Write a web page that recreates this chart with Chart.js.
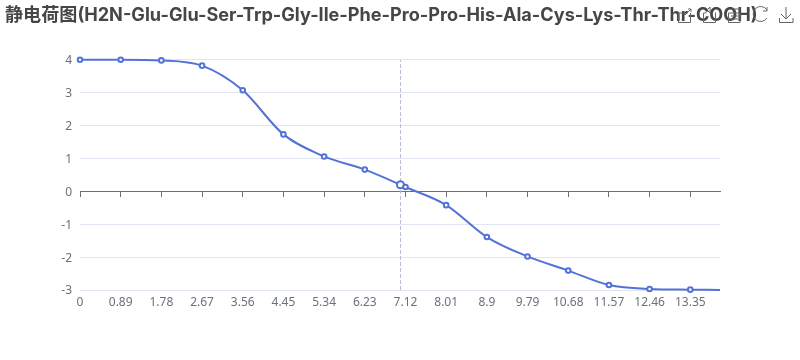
<!DOCTYPE html>
<html><head><meta charset="utf-8">
<script src="https://cdn.jsdelivr.net/npm/chart.js@4"></script>
<style>
html,body{margin:0;padding:0;background:#fff}
#wrap{position:relative;width:800px;height:360px}
canvas{position:absolute;left:0;top:0}
#tools{position:absolute;left:0;top:0;pointer-events:none}
</style></head><body>
<div id="wrap"><canvas id="c" width="800" height="360"></canvas>
<svg id="tools" width="800" height="30" fill="none" stroke="#666" stroke-width="1">
<path d="M678.5 13v9.5h12V13M678.5 13h5M691 9l-6 6M688 9h3v3"/>
<path d="M703.5 13v9.5h12V13M703.5 13h3M715 13h1M707 10l3-3v6z"/>
<path d="M728.5 13v9.5h11.5V13H728.5M731 16h7M731 19h7M732 9h8"/>
<path d="M767 10a7.5 7.5 0 1 0 0 8M767 7v4h-4"/>
<path d="M786 7v12M781 14l5 5 5-5M779.5 18v4.5h13.5V18"/>
</svg></div>
<script>
const titleText = '静电荷图(H2N-Glu-Glu-Ser-Trp-Gly-Ile-Phe-Pro-Pro-His-Ala-Cys-Lys-Thr-Thr-COOH)';
const xTicks = [0,0.89,1.78,2.67,3.56,4.45,5.34,6.23,7.12,8.01,8.9,9.79,10.68,11.57,12.46,13.35];
const phValues = [0,0.89,1.78,2.67,3.56,4.45,5.34,6.23,7.01,7.12,8.01,8.9,9.79,10.68,11.57,12.46,13.35,14];
const charges = [4,4,3.98,3.82,3.07,1.73,1.06,0.66,0.2,0.13,-0.42,-1.39,-1.98,-2.41,-2.85,-2.97,-2.99,-3];
const yTicks = [-3,-2,-1,0,1,2,3,4];
const crosshairX = 7.01;

const labelFont = {family:'"Noto Sans","Noto Sans CJK SC",sans-serif',size:12};
const labelColor = '#6E7079';
const lineColor = '#5272D8';
const setX = s => { s.ticks = xTicks.map(v=>({value:v})); };

new Chart(document.getElementById('c'),{
  type:'line',
  data:{datasets:[
    {data:phValues.map((x,i)=>({x,y:charges[i]})),xAxisID:'x',yAxisID:'y',
     borderColor:lineColor,borderWidth:2,cubicInterpolationMode:'monotone',clip:false,
     pointBackgroundColor:'#fff',pointBorderColor:lineColor,pointBorderWidth:2,
     pointRadius:c=>{const x=phValues[c.dataIndex];return x===crosshairX?3.5:(x===14?0:2.3);},order:1},
    {data:[{x:crosshairX,y:yTicks[0]},{x:crosshairX,y:yTicks[yTicks.length-1]}],xAxisID:'x',yAxisID:'y',
     borderColor:'#B6BDD2',borderWidth:1,borderDash:[4,2],pointRadius:0,order:2}
  ]},
  options:{
    responsive:false,animation:false,
    layout:{padding:{left:5,right:0,top:0,bottom:0}},
    plugins:{legend:{display:false},tooltip:{enabled:false},
      title:{display:true,text:titleText,align:'start',color:'#464646',
        font:{family:'"Inter","Noto Sans CJK SC",sans-serif',size:18.1,weight:'bold',lineHeight:1.2},
        padding:{top:5,bottom:33}}},
    scales:{
      x:{type:'linear',position:'bottom',min:0,max:14,afterBuildTicks:setX,
        grid:{display:false,drawTicks:false},border:{display:false},
        ticks:{autoSkip:false,maxRotation:0,color:labelColor,font:labelFont,padding:5,callback:v=>String(v)},
        afterFit:s=>{s.height=70;}},
      xZero:{type:'linear',position:{y:0},min:0,max:14,afterBuildTicks:setX,
        grid:{drawOnChartArea:false,drawTicks:true,tickLength:5,color:labelColor,tickColor:labelColor},
        border:{display:true,color:labelColor,width:1},
        ticks:{display:false}},
      y:{min:yTicks[0],max:yTicks[yTicks.length-1],position:'left',
        afterBuildTicks:s=>{s.ticks=yTicks.map(v=>({value:v}));},
        grid:{color:'#E0E6F1',drawTicks:false},border:{display:false},
        ticks:{color:labelColor,font:labelFont,padding:8,labelOffset:1},
        afterFit:s=>{s.width=75;}},
      yRight:{position:'right',min:0,max:1,grid:{display:false,drawTicks:false},border:{display:false},
        ticks:{display:false},afterFit:s=>{s.width=80;}}
    }
  }
});
</script></body></html>
